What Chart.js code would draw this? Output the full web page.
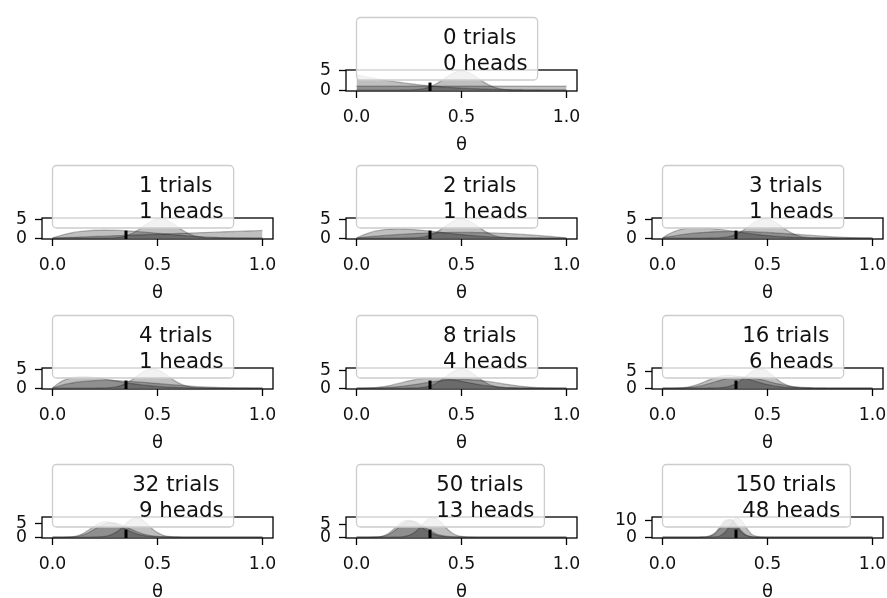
<!DOCTYPE html>
<html><head><meta charset="utf-8">
<script src="https://cdn.jsdelivr.net/npm/chart.js@4.4.1/dist/chart.umd.min.js"></script>
<style>
html,body{margin:0;padding:0;background:#fff;overflow:hidden;width:887px;height:598px;}
#wrap{position:relative;width:887px;height:598px;overflow:hidden;}
canvas{position:absolute;}
</style></head><body><div id="wrap"></div>
<script>
// ---------------- data ----------------
const X_GRID = [0,0.025,0.05,0.075,0.1,0.125,0.15,0.175,0.2,0.225,0.25,0.275,0.3,0.325,0.35,0.375,0.4,0.425,0.45,0.475,0.5,0.525,0.55,0.575,0.6,0.625,0.65,0.675,0.7,0.725,0.75,0.775,0.8,0.825,0.85,0.875,0.9,0.925,0.95,0.975,1];
const X_TICKS = [0, 0.5, 1.0];
const TRUE_THETA = 0.35;
const TRIALS = [0, 1, 2, 3, 4, 8, 16, 32, 50, 150];
const HEADS  = [0, 1, 1, 1, 1, 4, 6, 9, 13, 48];
const Y_TICKS = [[0,5],[0,5],[0,5],[0,5],[0,5],[0,5],[0,5],[0,5],[0,5],[0,10]];

// posterior density under a flat prior
const FLAT_PRIOR_POST = [
 [1,1,1,1,1,1,1,1,1,1, 1,1,1,1,1,1,1,1,1,1, 1,1,1,1,1,1,1,1,1,1, 1,1,1,1,1,1,1,1,1,1, 1],
 [0,0.05,0.1,0.15,0.2,0.25,0.3,0.35,0.4,0.45, 0.5,0.55,0.6,0.65,0.7,0.75,0.8,0.85,0.9,0.95, 1,1.05,1.1,1.15,1.2,1.25,1.3,1.35,1.4,1.45, 1.5,1.55,1.6,1.65,1.7,1.75,1.8,1.85,1.9,1.95, 2],
 [0,0.15,0.29,0.42,0.54,0.66,0.77,0.87,0.96,1.05, 1.13,1.2,1.26,1.32,1.37,1.41,1.44,1.47,1.49,1.5, 1.5,1.5,1.49,1.47,1.44,1.41,1.37,1.32,1.26,1.2, 1.13,1.05,0.96,0.87,0.77,0.66,0.54,0.42,0.29,0.15, 0],
 [0,0.29,0.54,0.77,0.97,1.15,1.3,1.43,1.54,1.62, 1.69,1.73,1.76,1.78,1.77,1.76,1.73,1.69,1.63,1.57, 1.5,1.42,1.34,1.25,1.15,1.06,0.96,0.86,0.76,0.66, 0.56,0.47,0.38,0.3,0.23,0.16,0.11,0.06,0.03,0.01, 0],
 [0,0.46,0.86,1.19,1.46,1.68,1.84,1.97,2.05,2.09, 2.11,2.09,2.06,2,1.92,1.83,1.73,1.62,1.5,1.37, 1.25,1.13,1,0.88,0.77,0.66,0.56,0.46,0.38,0.3, 0.23,0.18,0.13,0.09,0.06,0.03,0.02,0.01,0,0, 0],
 [0,0,0,0.01,0.04,0.09,0.17,0.27,0.41,0.58, 0.78,1,1.23,1.46,1.69,1.9,2.09,2.25,2.36,2.44, 2.46,2.44,2.36,2.25,2.09,1.9,1.69,1.46,1.23,1, 0.78,0.58,0.41,0.27,0.17,0.09,0.04,0.01,0,0, 0],
 [0,0,0,0.01,0.05,0.14,0.31,0.57,0.94,1.38, 1.87,2.36,2.8,3.15,3.37,3.44,3.37,3.17,2.86,2.49, 2.08,1.67,1.28,0.95,0.67,0.45,0.28,0.17,0.09,0.05, 0.02,0.01,0,0,0,0,0,0,0,0, 0],
 [0,0,0,0.01,0.08,0.32,0.85,1.71,2.8,3.89, 4.72,5.1,4.98,4.45,3.63,2.74,1.92,1.24,0.75,0.42, 0.22,0.1,0.05,0.02,0.01,0,0,0,0,0, 0,0,0,0,0,0,0,0,0,0, 0],
 [0,0,0,0,0.04,0.23,0.85,2.09,3.8,5.42, 6.34,6.24,5.28,3.9,2.53,1.45,0.74,0.34,0.14,0.05, 0.02,0.01,0,0,0,0,0,0,0,0, 0,0,0,0,0,0,0,0,0,0, 0],
 [0,0,0,0,0,0,0,0.01,0.07,0.47, 1.94,5.21,9.12,10.38,7.68,3.69,1.15,0.23,0.03,0, 0,0,0,0,0,0,0,0,0,0, 0,0,0,0,0,0,0,0,0,0, 0]
];
// posterior density under a prior leaning to low theta
const LOW_PRIOR_POST = [
 [4,3.71,3.43,3.17,2.92,2.68,2.46,2.25,2.05,1.86, 1.69,1.52,1.37,1.23,1.1,0.98,0.86,0.76,0.67,0.58, 0.5,0.43,0.36,0.31,0.26,0.21,0.17,0.14,0.11,0.08, 0.06,0.05,0.03,0.02,0.01,0.01,0,0,0,0, 0],
 [0,0.46,0.86,1.19,1.46,1.68,1.84,1.97,2.05,2.09, 2.11,2.09,2.06,2,1.92,1.83,1.73,1.62,1.5,1.37, 1.25,1.13,1,0.88,0.77,0.66,0.56,0.46,0.38,0.3, 0.23,0.18,0.13,0.09,0.06,0.03,0.02,0.01,0,0, 0],
 [0,0.68,1.22,1.65,1.97,2.2,2.35,2.43,2.46,2.44, 2.37,2.28,2.16,2.02,1.87,1.72,1.56,1.39,1.24,1.08, 0.94,0.8,0.68,0.56,0.46,0.37,0.29,0.23,0.17,0.12, 0.09,0.06,0.04,0.02,0.01,0.01,0,0,0,0, 0],
 [0,0.93,1.63,2.13,2.48,2.69,2.8,2.81,2.75,2.64, 2.49,2.31,2.12,1.91,1.71,1.5,1.31,1.12,0.95,0.8, 0.66,0.53,0.43,0.34,0.26,0.2,0.14,0.1,0.07,0.05, 0.03,0.02,0.01,0.01,0,0,0,0,0,0, 0],
 [0,1.2,2.06,2.63,2.98,3.14,3.17,3.09,2.94,2.73, 2.49,2.24,1.98,1.72,1.48,1.25,1.05,0.86,0.7,0.56, 0.44,0.34,0.26,0.19,0.14,0.1,0.07,0.05,0.03,0.02, 0.01,0.01,0,0,0,0,0,0,0,0, 0],
 [0,0,0.02,0.07,0.19,0.38,0.64,0.97,1.33,1.7, 2.07,2.38,2.64,2.82,2.91,2.92,2.84,2.68,2.47,2.22, 1.93,1.64,1.35,1.08,0.84,0.63,0.46,0.31,0.21,0.13, 0.08,0.04,0.02,0.01,0,0,0,0,0,0, 0],
 [0,0,0,0.04,0.14,0.37,0.75,1.28,1.91,2.56, 3.15,3.59,3.83,3.87,3.69,3.35,2.9,2.4,1.9,1.44, 1.04,0.71,0.47,0.29,0.17,0.09,0.05,0.02,0.01,0, 0,0,0,0,0,0,0,0,0,0, 0],
 [0,0,0,0.03,0.16,0.59,1.43,2.63,3.94,4.97, 5.47,5.34,4.69,3.76,2.74,1.84,1.14,0.65,0.34,0.17, 0.07,0.03,0.01,0,0,0,0,0,0,0, 0,0,0,0,0,0,0,0,0,0, 0],
 [0,0,0,0.01,0.07,0.39,1.31,2.96,4.89,6.34, 6.74,6,4.57,3.01,1.74,0.89,0.4,0.16,0.06,0.02, 0.01,0,0,0,0,0,0,0,0,0, 0,0,0,0,0,0,0,0,0,0, 0],
 [0,0,0,0,0,0,0,0.01,0.11,0.65, 2.52,6.25,9.95,10.17,6.66,2.8,0.75,0.13,0.01,0, 0,0,0,0,0,0,0,0,0,0, 0,0,0,0,0,0,0,0,0,0, 0]
];
// posterior density under a prior concentrated near a fair coin
const FAIR_PRIOR_POST = [
 [0,0,0,0,0,0,0,0,0,0.01, 0.02,0.07,0.18,0.42,0.84,1.47,2.31,3.25,4.14,4.78, 5.01,4.78,4.14,3.25,2.31,1.47,0.84,0.42,0.18,0.07, 0.02,0.01,0,0,0,0,0,0,0,0, 0],
 [0,0,0,0,0,0,0,0,0,0, 0.01,0.04,0.11,0.27,0.59,1.1,1.85,2.76,3.73,4.54, 5.01,5.02,4.55,3.74,2.77,1.84,1.09,0.56,0.26,0.1, 0.03,0.01,0,0,0,0,0,0,0,0, 0],
 [0,0,0,0,0,0,0,0,0,0, 0.02,0.06,0.16,0.38,0.78,1.41,2.27,3.26,4.2,4.89, 5.14,4.89,4.2,3.26,2.27,1.41,0.78,0.38,0.16,0.06, 0.02,0,0,0,0,0,0,0,0,0, 0],
 [0,0,0,0,0,0,0,0,0,0.01, 0.02,0.08,0.22,0.51,1.01,1.77,2.73,3.74,4.62,5.13, 5.14,4.64,3.78,2.77,1.82,1.06,0.55,0.24,0.09,0.03, 0.01,0,0,0,0,0,0,0,0,0, 0],
 [0,0,0,0,0,0,0,0,0,0.01, 0.04,0.12,0.3,0.67,1.29,2.16,3.2,4.21,4.97,5.27, 5.02,4.31,3.33,2.3,1.42,0.78,0.37,0.16,0.06,0.02, 0,0,0,0,0,0,0,0,0,0, 0],
 [0,0,0,0,0,0,0,0,0,0, 0.01,0.03,0.1,0.27,0.63,1.25,2.15,3.26,4.37,5.19, 5.5,5.19,4.37,3.26,2.15,1.25,0.63,0.27,0.1,0.03, 0.01,0,0,0,0,0,0,0,0,0, 0],
 [0,0,0,0,0,0,0,0,0,0.01, 0.03,0.1,0.28,0.66,1.36,2.42,3.74,4.99,5.78,5.79, 5.03,3.79,2.47,1.4,0.69,0.29,0.11,0.03,0.01,0, 0,0,0,0,0,0,0,0,0,0, 0],
 [0,0,0,0,0,0,0,0,0.02,0.08, 0.26,0.7,1.58,3,4.73,6.22,6.81,6.22,4.73,3, 1.58,0.7,0.26,0.08,0.02,0,0,0,0,0, 0,0,0,0,0,0,0,0,0,0, 0],
 [0,0,0,0,0,0,0,0.01,0.05,0.2, 0.67,1.75,3.61,5.86,7.51,7.59,6.05,3.8,1.88,0.74, 0.23,0.06,0.01,0,0,0,0,0,0,0, 0,0,0,0,0,0,0,0,0,0, 0],
 [0,0,0,0,0,0,0,0,0,0.01, 0.11,0.76,3.1,7.62,11.23,9.91,5.24,1.66,0.32,0.04, 0,0,0,0,0,0,0,0,0,0, 0,0,0,0,0,0,0,0,0,0, 0]
];

// ---------------- layout / style ----------------
const FONT = 'DejaVu Sans';
const AX_W = 231, AX_H = 21, PAD_L = 45, PAD_T = 60, PAD_B = 70, PAD_R = 26;
const COL_LEFT = [42, 346, 652];
const ROW_TOP = [70, 218, 368, 517];
const FILL = 'rgba(0,0,0,0.25)';
const TEXT = '#111';

function pad3(n){ let s = String(n); while (s.length < 3) s = ' ' + s; return s; }

function panelPos(i){
  if (i === 0) return [COL_LEFT[1], ROW_TOP[0]];
  const r = Math.floor((i - 1) / 3) + 1, c = (i - 1) % 3;
  return [COL_LEFT[c], ROW_TOP[r]];
}

function makePlugin(lines){
  return {
    id: 'frameLegend',
    afterDatasetsDraw(chart){
      const {ctx, chartArea: a, scales: {x}} = chart;
      const px = x.getPixelForValue(TRUE_THETA);
      ctx.save();
      ctx.strokeStyle = '#000';
      ctx.lineWidth = 3;
      ctx.beginPath();
      ctx.moveTo(px, a.bottom);
      ctx.lineTo(px, a.bottom - 0.4 * (a.bottom - a.top));
      ctx.stroke();
      ctx.lineWidth = 1.3;
      ctx.strokeRect(a.left, a.top, a.right - a.left, a.bottom - a.top);
      ctx.restore();
    },
    afterDraw(chart){
      const {ctx, chartArea: a} = chart;
      ctx.save();
      ctx.font = '21.3px "' + FONT + '"';
      const tw = Math.max(...lines.map(l => ctx.measureText(l).width));
      const bx = a.left + 10.5, by = a.top - 52.5, bw = 73 + tw + 10, bh = 62.5;
      ctx.beginPath();
      if (ctx.roundRect) ctx.roundRect(bx, by, bw, bh, 4); else ctx.rect(bx, by, bw, bh);
      ctx.fillStyle = 'rgba(255,255,255,0.8)';
      ctx.fill();
      ctx.strokeStyle = '#cccccc';
      ctx.lineWidth = 1.3;
      ctx.stroke();
      ctx.fillStyle = TEXT;
      ctx.textAlign = 'left';
      ctx.textBaseline = 'alphabetic';
      ctx.fillText(lines[0], bx + 73, a.top - 26);
      ctx.fillText(lines[1], bx + 73, a.top - 0.5);
      ctx.restore();
    }
  };
}

const wrap = document.getElementById('wrap');
for (let i = 0; i < TRIALS.length; i++){
  const [L, T] = panelPos(i);
  const cv = document.createElement('canvas');
  const W = PAD_L + AX_W + PAD_R, H = PAD_T + AX_H + PAD_B;
  cv.width = W; cv.height = H;
  cv.style.width = W + 'px'; cv.style.height = H + 'px';
  cv.style.left = (L - PAD_L) + 'px'; cv.style.top = (T - PAD_T) + 'px';
  wrap.appendChild(cv);

  const series = [FLAT_PRIOR_POST[i], LOW_PRIOR_POST[i], FAIR_PRIOR_POST[i]];
  const M = Math.max(...series.map(s => Math.max(...s)));
  const datasets = series.map(s => ({
    data: X_GRID.map((x, k) => ({x: x, y: s[k]})),
    fill: 'origin',
    backgroundColor: FILL,
    borderColor: FILL,
    borderWidth: 1.3,
    pointRadius: 0,
    cubicInterpolationMode: 'monotone'
  }));
  const yt = Y_TICKS[i];
  const lines = [pad3(TRIALS[i]) + ' trials', pad3(HEADS[i]) + ' heads'];

  new Chart(cv, {
    type: 'line',
    data: { datasets },
    options: {
      responsive: false,
      animation: false,
      devicePixelRatio: 1,
      events: [],
      layout: { padding: { left: 0, top: PAD_T, right: PAD_R, bottom: 0 } },
      plugins: { legend: { display: false }, tooltip: { enabled: false } },
      scales: {
        x: {
          type: 'linear', min: -0.05, max: 1.05,
          afterBuildTicks: s => { s.ticks = X_TICKS.map(v => ({ value: v })); },
          afterFit: s => { s.height = PAD_B; },
          grid: { display: true, drawOnChartArea: false, drawTicks: true, tickLength: 7, tickWidth: 1.3, tickColor: '#000', color: '#000' },
          border: { display: false },
          ticks: { padding: 9.5, color: TEXT, autoSkip: false, maxRotation: 0, font: { family: FONT, size: 17.3 }, callback: v => Number(v).toFixed(1) },
          title: { display: true, text: 'θ', color: TEXT, font: { family: FONT, size: 18 }, padding: { top: 0, bottom: 4.5 } }
        },
        y: {
          type: 'linear', min: -0.05 * M, max: 1.05 * M,
          afterBuildTicks: s => { s.ticks = yt.map(v => ({ value: v })); },
          afterFit: s => { s.width = PAD_L; },
          grid: { display: true, drawOnChartArea: false, drawTicks: true, tickLength: 7, tickWidth: 1.3, tickColor: '#000', color: '#000' },
          border: { display: false },
          ticks: { padding: 8, color: TEXT, autoSkip: false, font: { family: FONT, size: 17.3 }, callback: v => String(v) }
        }
      }
    },
    plugins: [makePlugin(lines)]
  });
}
</script>
</body></html>
